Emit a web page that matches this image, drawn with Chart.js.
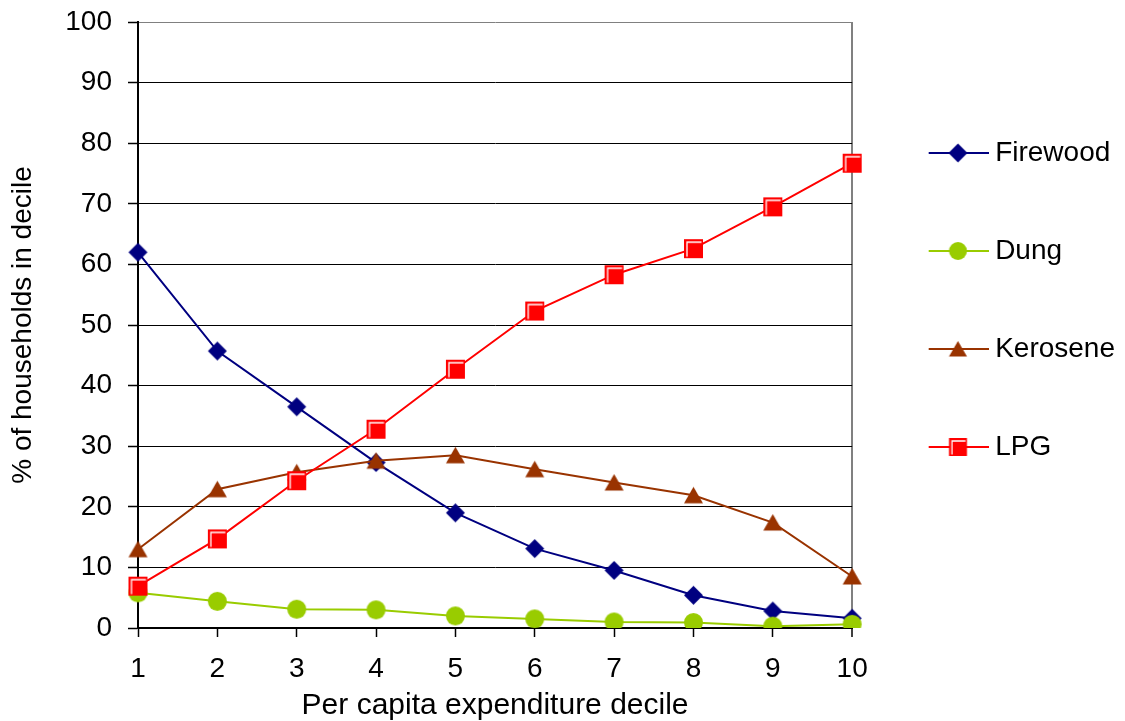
<!DOCTYPE html>
<html>
<head>
<meta charset="utf-8">
<script src="https://cdn.jsdelivr.net/npm/chart.js@4/dist/chart.umd.min.js"></script>
<style>
  html, body { margin: 0; padding: 0; background: #ffffff; }
  #wrap { width: 1125px; height: 721px; position: relative; }
</style>
</head>
<body>
<div id="wrap"><canvas id="c" width="1125" height="721"></canvas></div>
<script>
// ---- data ----
const categories = ['1', '2', '3', '4', '5', '6', '7', '8', '9', '10'];
const seriesNames = ['Firewood', 'Dung', 'Kerosene', 'LPG'];
const firewood = [62.0, 45.7, 36.5, 27.3, 19.0, 13.1, 9.5, 5.4, 2.8, 1.6];
const dung     = [5.8, 4.4, 3.1, 3.0, 2.0, 1.5, 1.0, 0.9, 0.3, 0.6];
const kerosene = [13.0, 22.9, 25.7, 27.6, 28.5, 26.2, 24.0, 21.9, 17.4, 8.5];
const lpg      = [6.9, 14.7, 24.3, 32.8, 42.7, 52.3, 58.3, 62.6, 69.5, 76.7];
const yMin = 0, yMax = 100, yStep = 10;
const xTitle = 'Per capita expenditure decile';
const yTitle = '% of households in decile';

// ---- styles ----
const colors = ['#000080', '#99CC00', '#993300', '#FF0000'];
const kinds = ['diamond', 'circle', 'triangle', 'square'];
const FONT = "'Liberation Sans', Arial, Helvetica, sans-serif";

function drawMarker(ctx, kind, color, cx, cy, size) {
  const h = size / 2;
  ctx.fillStyle = color;
  ctx.beginPath();
  if (kind === 'diamond') {
    ctx.moveTo(cx - h, cy); ctx.lineTo(cx, cy - h); ctx.lineTo(cx + h, cy); ctx.lineTo(cx, cy + h);
    ctx.closePath(); ctx.fill();
  } else if (kind === 'circle') {
    ctx.arc(cx, cy, h, 0, Math.PI * 2); ctx.fill();
  } else if (kind === 'triangle') {
    ctx.moveTo(cx, cy - 0.45 * size); ctx.lineTo(cx + h, cy + 0.42 * size); ctx.lineTo(cx - h, cy + 0.42 * size);
    ctx.closePath(); ctx.fill();
  } else if (kind === 'square') {
    ctx.fillRect(cx - h, cy - h, size, size);
    ctx.strokeStyle = '#ffffff';
    ctx.lineWidth = 1.3;
    ctx.beginPath();
    ctx.moveTo(cx - h + 3, cy + h - 1.5);
    ctx.lineTo(cx - h + 3, cy - h + 3);
    ctx.lineTo(cx + h - 1.5, cy - h + 3);
    ctx.stroke();
  }
}

function markerCanvas(kind, color, size) {
  const c = document.createElement('canvas');
  const n = Math.ceil(size) + 4;
  c.width = n; c.height = n;
  drawMarker(c.getContext('2d'), kind, color, n / 2, n / 2, size);
  return c;
}

function legendIcon(kind, color, size) {
  const c = document.createElement('canvas');
  c.width = 74; c.height = 28;
  const ctx = c.getContext('2d');
  ctx.strokeStyle = color;
  ctx.lineWidth = 2;
  ctx.beginPath();
  ctx.moveTo(14, 14); ctx.lineTo(74, 14);
  ctx.stroke();
  drawMarker(ctx, kind, color, 43.3, 14, size);
  return c;
}

const pointImgs = kinds.map((k, i) => markerCanvas(k, colors[i], 19));
const legendImgs = kinds.map((k, i) => legendIcon(k, colors[i], k === 'diamond' ? 19 : 18));

const seriesValues = [firewood, dung, kerosene, lpg];
const datasets = seriesValues.map((vals, i) => ({
  label: seriesNames[i],
  data: vals,
  borderColor: colors[i],
  backgroundColor: colors[i],
  borderWidth: 2,
  tension: 0,
  pointStyle: pointImgs[i],
  pointRadius: 9,
  pointHoverRadius: 9,
  order: seriesValues.length - i
}));

Chart.defaults.font.family = FONT;
Chart.defaults.color = '#000';

new Chart(document.getElementById('c'), {
  type: 'line',
  data: { labels: categories, datasets },
  options: {
    responsive: false,
    animation: false,
    layout: { padding: { top: 22, left: 0, right: 0, bottom: 0 } },
    plugins: {
      tooltip: { enabled: false },
      legend: {
        display: true,
        position: 'right',
        align: 'start',
        title: { display: true, text: ' ', font: { size: 10, lineHeight: 1 }, padding: { top: 37, bottom: 0 } },
        labels: {
          usePointStyle: true,
          pointStyleWidth: 59,
          padding: 70,
          color: '#000',
          font: { size: 28, family: FONT },
          generateLabels: (chart) => chart.data.datasets.map((ds, i) => ({
            text: ds.label,
            pointStyle: legendImgs[i],
            fillStyle: ds.borderColor,
            strokeStyle: ds.borderColor,
            lineWidth: 0,
            hidden: false,
            fontColor: '#000',
            datasetIndex: i
          }))
        }
      }
    },
    scales: {
      x: {
        type: 'category',
        offset: false,
        grid: {
          drawOnChartArea: true,
          color: (c) => c.index === categories.length - 1 ? '#808080' : 'rgba(0,0,0,0)',
          lineWidth: (c) => c.index === categories.length - 1 ? 2 : 1,
          tickColor: '#000',
          tickLength: 9,
          tickWidth: 1.5
        },
        border: { display: true, color: '#000', width: 2 },
        ticks: { color: '#000', font: { size: 28 }, padding: 15, maxRotation: 0, autoSkip: false },
        title: { display: true, text: xTitle, color: '#000', font: { size: 30, lineHeight: 1 }, padding: { top: 0, bottom: 0 } },
        afterFit: (s) => { s.height = 93; s.paddingRight = 0; s.paddingLeft = 0; }
      },
      y: {
        min: yMin,
        max: yMax,
        grid: {
          color: (c) => (c.tick && c.tick.value === yMax) ? '#808080' : '#000',
          lineWidth: 1,
          tickColor: '#000',
          tickLength: 10,
          tickWidth: 1.5
        },
        border: { display: true, color: '#000', width: 2 },
        ticks: { stepSize: yStep, color: '#000', font: { size: 28 }, padding: 16 },
        title: { display: true, text: yTitle, color: '#000', font: { size: 28, lineHeight: 1 }, padding: { top: 9, bottom: 0 } },
        afterFit: (s) => { s.width = 138; s.paddingTop = 0; s.paddingBottom = 0; }
      }
    }
  }
});
</script>
</body>
</html>
